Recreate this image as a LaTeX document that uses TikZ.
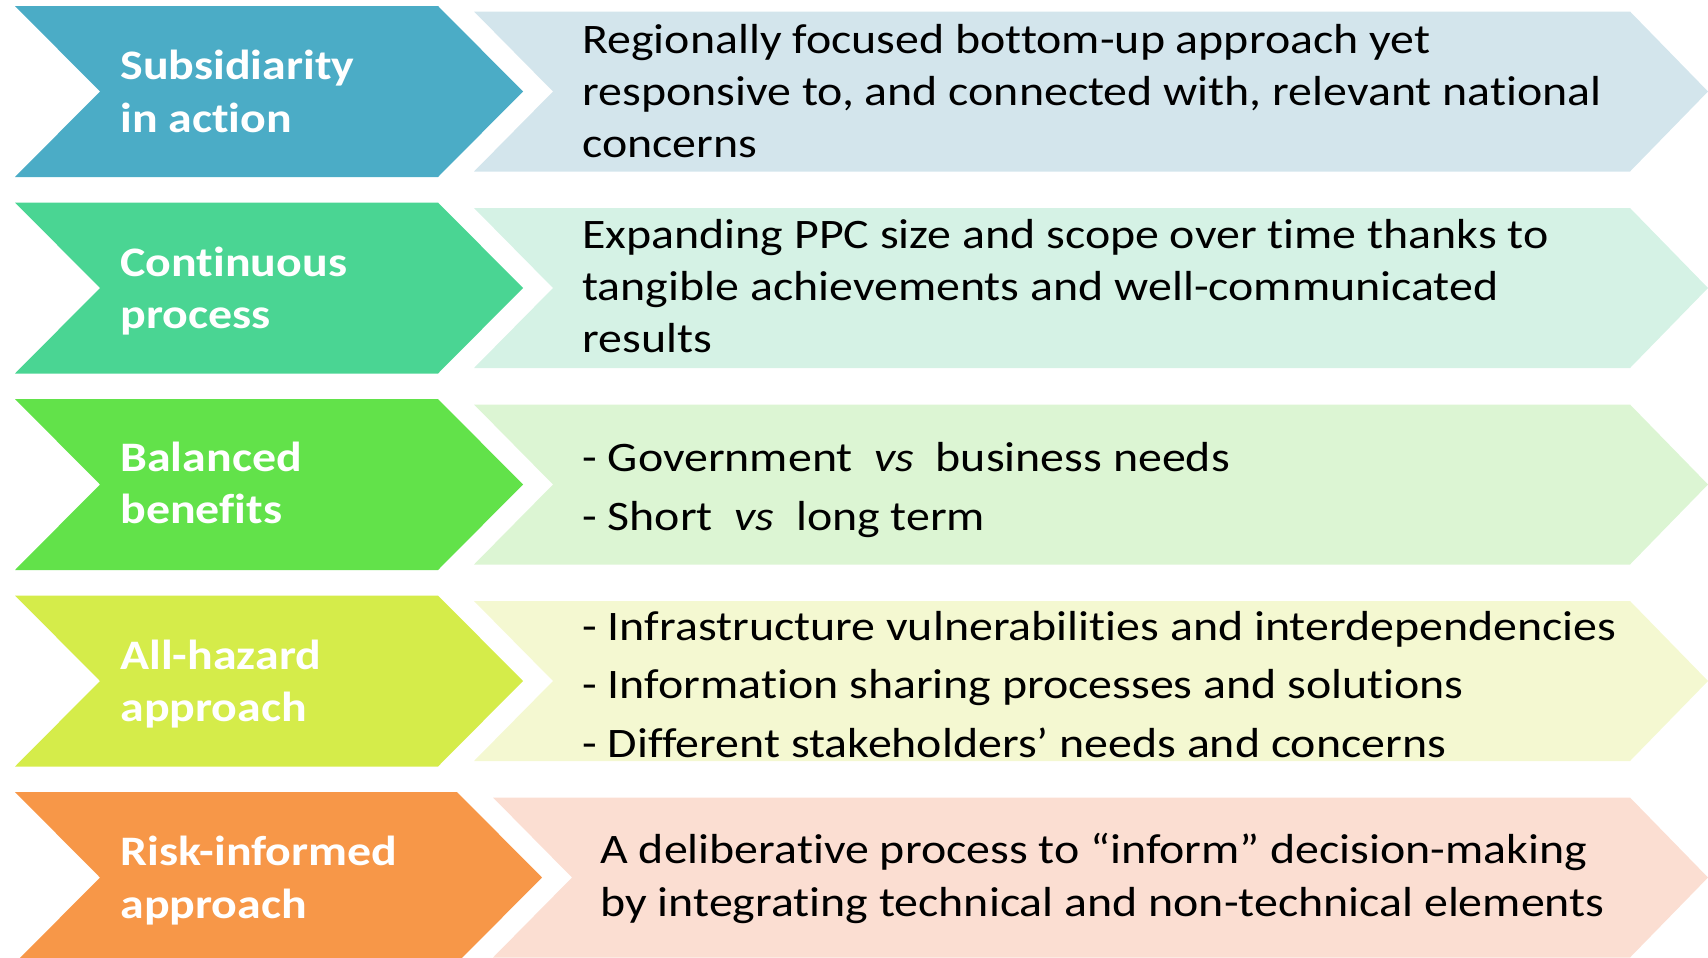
\documentclass[tikz,border=0pt]{standalone}
\usepackage{fontspec}
\setmainfont{Carlito}[FakeStretch=1.14, Ligatures=NoCommon]
\definecolor{dA}{HTML}{4BACC6}
\definecolor{lA}{HTML}{D3E5EC}
\definecolor{dB}{HTML}{4AD593}
\definecolor{lB}{HTML}{D5F2E5}
\definecolor{dC}{HTML}{62E24A}
\definecolor{lC}{HTML}{DCF5D3}
\definecolor{dD}{HTML}{D5EC4A}
\definecolor{lD}{HTML}{F4F8D1}
\definecolor{dE}{HTML}{F79748}
\definecolor{lE}{HTML}{FBDED2}
\begin{document}
\begin{tikzpicture}[x=0.5pt,y=-0.5pt,
  lbl/.style={anchor=base west, align=left, text=white, inner sep=0pt,
    font=\fontsize{21}{26.25}\selectfont\bfseries},
  txt/.style={anchor=base west, align=left, text=black, inner sep=0pt,
    font=\fontsize{21}{26}\selectfont},
  txtwide/.style={txt, font=\fontsize{21}{29.25}\selectfont},
  txtmid/.style={txt, font=\fontsize{21}{26.4}\selectfont}]
\useasboundingbox (0,0) rectangle (1708,958);
\clip (0,0) rectangle (1708,958);
% left chevrons
\fill[dA] (15,6) -- (438,6) -- (523,91.5) -- (438,177) -- (15,177) -- (100,91.5) -- cycle;
\fill[dB] (15,202.5) -- (438,202.5) -- (523,288) -- (438,373.5) -- (15,373.5) -- (100,288) -- cycle;
\fill[dC] (15,399) -- (438,399) -- (523,484.5) -- (438,570) -- (15,570) -- (100,484.5) -- cycle;
\fill[dD] (15,595.5) -- (438,595.5) -- (523,681) -- (438,766.5) -- (15,766.5) -- (100,681) -- cycle;
\fill[dE] (15,792) -- (457,792) -- (542,877.5) -- (457,963) -- (15,963) -- (100,877.5) -- cycle;
% right chevrons
\fill[lA] (474,11.5) -- (1630,11.5) -- (1708,91.5) -- (1630,171.5) -- (474,171.5) -- (553,91.5) -- cycle;
\fill[lB] (474,208) -- (1630,208) -- (1708,288) -- (1630,368) -- (474,368) -- (553,288) -- cycle;
\fill[lC] (474,404.5) -- (1630,404.5) -- (1708,484.5) -- (1630,564.5) -- (474,564.5) -- (553,484.5) -- cycle;
\fill[lD] (474,601) -- (1630,601) -- (1708,681) -- (1630,761) -- (474,761) -- (553,681) -- cycle;
\fill[lE] (493,797.5) -- (1630,797.5) -- (1708,877.5) -- (1630,957.5) -- (493,957.5) -- (572,877.5) -- cycle;
% left labels (anchor = baseline of last line)
\node[lbl] (l1) at (120,132) {Subsidiarity\\in action};
\node[lbl] (l2) at (120,328.5) {Continuous\\process};
\node[lbl] (l3) at (120,523.5) {Balanced\\benefits};
\node[lbl] (l4) at (120,721.5) {All-hazard\\approach};
\node[lbl] (l5) at (120,918) {Risk-informed\\approach};
% right texts
\node[txt] (t1) at (582,157) {Regionally focused bottom-up approach yet\\responsive to, and connected with, relevant national\\concerns};
\node[txt] (t2) at (582,352) {Expanding PPC size and scope over time thanks to\\tangible achievements and well-communicated\\results};
\node[txtwide] (t3) at (582,530) {- Government~ \textit{vs}~ business needs\\- Short~ \textit{vs}~ long term};
\node[txtwide] (t4) at (582,757) {- Infrastructure vulnerabilities and interdependencies\\- Information sharing processes and solutions\\- Different stakeholders’ needs and concerns};
\node[txtmid] (t5) at (600,916) {A deliberative process to “inform” decision-making\\by integrating technical and non-technical elements};
\end{tikzpicture}
\end{document}
